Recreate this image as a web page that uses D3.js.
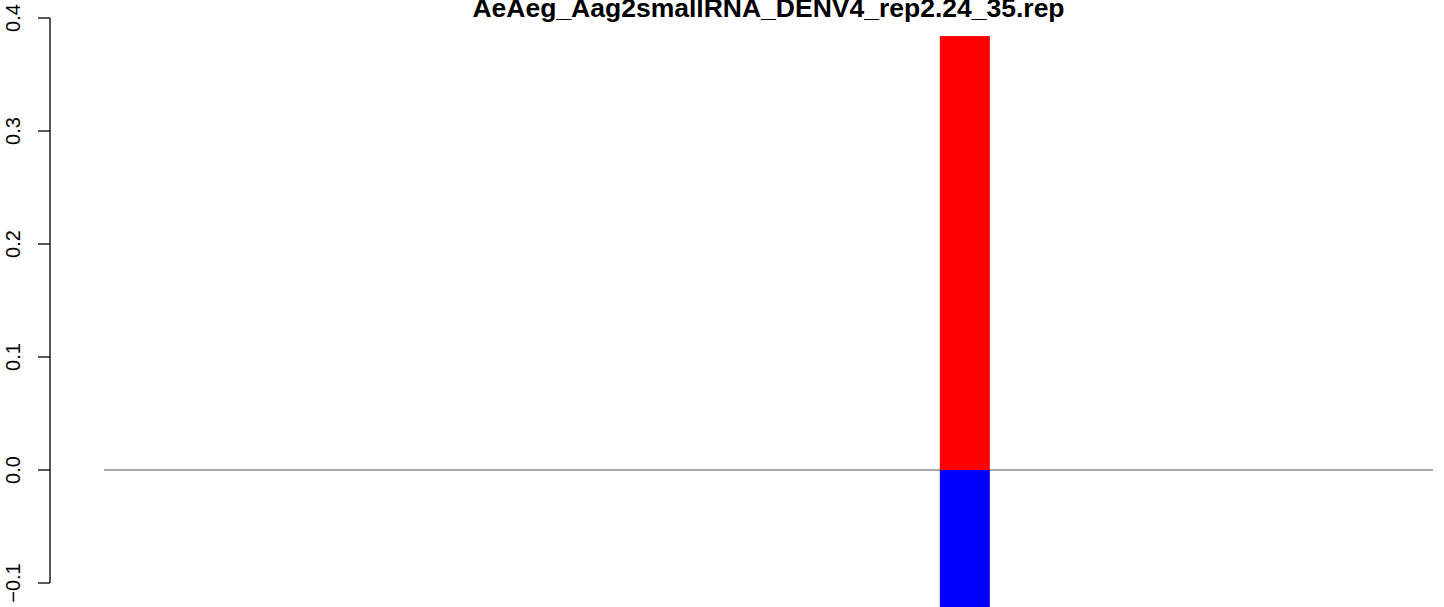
<!DOCTYPE html>
<html><head><meta charset="utf-8">
<script src="https://cdn.jsdelivr.net/npm/d3@7"></script>
<style>html,body{margin:0;padding:0;background:#fff;overflow:hidden}</style>
</head><body>
<script>
const title = "AeAeg_Aag2smallRNA_DENV4_rep2.24_35.rep";
const categories = d3.range(1, 21).map(String);
const sensValues = [0,0,0,0,0,0,0,0,0,0,0,0,0,0.384,0,0,0,0,0,0];
const antisensValues = [0,0,0,0,0,0,0,0,0,0,0,0,0,-0.125,0,0,0,0,0,0];
const yTicks = [-0.1, 0, 0.1, 0.2, 0.3, 0.4];
const yTickLabels = ["\u22120.1", "0.0", "0.1", "0.2", "0.3", "0.4"];

const W = 1444, H = 607;
const svg = d3.select("body").append("svg").attr("width", W).attr("height", H)
  .style("font-family", "'Liberation Sans', Arial, sans-serif");

const x = d3.scaleBand().domain(categories).range([104, 1433])
  .paddingInner(0.109).paddingOuter(1.9);
const y = d3.scaleLinear().domain([-0.1, 0.4]).range([583, 18]);

// zero line
svg.append("line").attr("x1", x.range()[0]).attr("x2", x.range()[1])
  .attr("y1", y(0)).attr("y2", y(0)).attr("stroke", "#555").attr("stroke-width", 1);

const g = svg.append("g");
g.selectAll("rect.s").data(categories).join("rect").attr("class", "s")
  .attr("x", d => x(d)).attr("width", x.bandwidth())
  .attr("y", (d, i) => y(Math.max(0, sensValues[i])))
  .attr("height", (d, i) => Math.abs(y(sensValues[i]) - y(0)))
  .attr("fill", "#ff0000");
g.selectAll("rect.a").data(categories).join("rect").attr("class", "a")
  .attr("x", d => x(d)).attr("width", x.bandwidth())
  .attr("y", y(0))
  .attr("height", (d, i) => Math.abs(y(antisensValues[i]) - y(0)))
  .attr("fill", "#0000ff");

// y axis
const axis = d3.axisLeft(y).tickValues(yTicks).tickSize(12).tickPadding(6)
  .tickFormat((d, i) => yTickLabels[i]);
const ag = svg.append("g").attr("transform", "translate(50,0)").call(axis);
ag.select(".domain").attr("stroke", "#000").attr("stroke-width", 1.3)
  .attr("d", `M0,${y(-0.1)}V${y(0.4)}`);
ag.selectAll(".tick line").attr("stroke", "#000").attr("stroke-width", 1.3);
ag.selectAll(".tick").attr("transform", null);
ag.selectAll(".tick line").attr("y1", d => y(d)).attr("y2", d => y(d)).attr("x2", -12);
ag.selectAll(".tick text")
  .attr("font-size", 20).attr("fill", "#000")
  .attr("x", -30).attr("dy", 0).attr("y", d => y(d))
  .attr("transform", d => `rotate(-90, -30, ${y(d)})`)
  .attr("text-anchor", "middle");
ag.attr("font-family", null);

svg.append("text").attr("x", (x.range()[0] + x.range()[1]) / 2).attr("y", 17)
  .attr("text-anchor", "middle").attr("font-weight", "bold").attr("font-size", 26.5)
  .text(title);
</script>
</body></html>
